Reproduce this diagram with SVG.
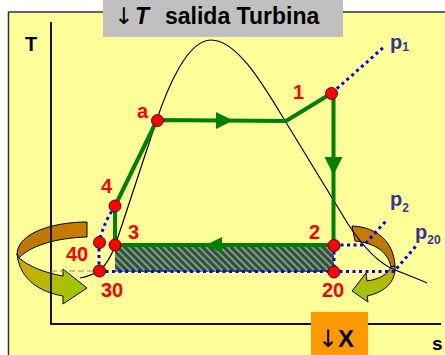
<svg xmlns="http://www.w3.org/2000/svg" width="445" height="355" viewBox="0 0 445 355">
<style>
.lbl{font-family:"Liberation Sans",Arial,sans-serif;font-weight:bold;font-size:20px;fill:#FF0000}
.plb{font-family:"Liberation Sans",Arial,sans-serif;font-weight:bold;font-size:20px;fill:#333399}
.sub{font-size:12px}
.blk{font-family:"Liberation Sans",Arial,sans-serif;font-weight:bold;fill:#000}
.arw{font-family:"DejaVu Sans",sans-serif;font-weight:normal}
.pt{fill:#FF0000;stroke:#600000;stroke-width:1}
.cyc{stroke:#008000;stroke-width:4;fill:none;stroke-linejoin:round}
.iso{stroke:#0000FF;stroke-width:3;fill:none;stroke-dasharray:3 3.5}
.head{fill:#008000}
.rib{stroke:#000;stroke-width:1}
</style>
<defs>
<pattern id="hatch" width="5" height="5" patternUnits="userSpaceOnUse" patternTransform="rotate(-45)">
<rect width="5" height="5" fill="#2A5436"/>
<rect width="2" height="5" fill="#8A968E"/>
</pattern>
<linearGradient id="orL" x1="0" y1="0" x2="1" y2="0"><stop offset="0" stop-color="#B87800"/><stop offset="1" stop-color="#CC7A00"/></linearGradient>
<linearGradient id="grL" x1="0" y1="0" x2="1" y2="0"><stop offset="0" stop-color="#CCAA00"/><stop offset="1" stop-color="#99CC00"/></linearGradient>
<linearGradient id="orR" x1="0" y1="0" x2="1" y2="0"><stop offset="0" stop-color="#CC7A00"/><stop offset="1" stop-color="#B87800"/></linearGradient>
<linearGradient id="grR" x1="0" y1="0" x2="0" y2="1"><stop offset="0" stop-color="#C8AA00"/><stop offset="1" stop-color="#99CC00"/></linearGradient>
</defs>

<rect x="8.5" y="12" width="445" height="350" fill="#FFFF99" stroke="#333" stroke-width="1.5"/>

<rect x="115" y="245" width="219" height="27" fill="url(#hatch)"/>

<g id="rot-left">
<path class="rib" d="M87,222 C55,222 18,232 17,254 L19,258 C30,246 55,238 87,237 Z" fill="url(#orL)"/>
<path class="rib" d="M19,258 C28,266 45,273 63,276 L63,269 L87,288 L63,304 L63,296 C40,292 20,280 17,254 Z" fill="url(#grL)"/>
</g>
<g id="rot-right">
<path class="rib" d="M352,226 C378,227 394,243 395,266 L391,267 C388,252 375,243 355,241 Z" fill="url(#orR)"/>
<path class="rib" d="M391,267 C388,274 380,279 367,281 L366,273 L352,291 L368,302 L367,296 C385,292 396,282 395,266 Z" fill="url(#grR)"/>
</g>

<g id="axes" stroke="#111" stroke-width="2" fill="none">
<path d="M51,22 L51,324 L441,324"/>
</g>

<g id="dome">
<path d="M80,278 C90,276 96,273 100,270 C107,264 112,255 116,243 L155,125 C168,85 188,40 211,40 C238,40 265,88 287,124 L348,224 C365,250 380,264 395,270 C405,274 418,279 427,283" fill="none" stroke="#000" stroke-width="1.2"/>
</g>

<g id="connectors">
<path class="iso" d="M332,93 L385,46"/>
<path class="iso" d="M334,245 L364,245 L386,221"/>
<path class="iso" d="M99,271.5 L394,271.5 L416,246"/>
<path class="iso" d="M334,245 L334,272"/>
<path class="iso" d="M99,242 L99,271"/>
<path class="iso" d="M115,206 Q104,222 99,242"/>
<path d="M51,271 L99,271" stroke="#888" stroke-width="1" stroke-dasharray="6 3" fill="none"/>
<path class="cyc" d="M115,245 L115,206 L157,120 L286,121 L332,93"/>
<path class="cyc" d="M333.5,93 L333.5,245 L115,245"/>
<polygon class="head" points="216,112 233,120.5 216,129"/>
<polygon class="head" points="324.5,157 333.5,175 342.5,157"/>
<polygon class="head" points="222,237 206,245 222,253"/>
</g>

<g id="node-a"><circle class="pt" cx="157.5" cy="120.5" r="6"/><text class="lbl" x="137" y="118">a</text></g>
<g id="node-1"><circle class="pt" cx="331.5" cy="93.5" r="6"/><text class="lbl" x="293" y="99">1</text></g>
<g id="node-2"><circle class="pt" cx="334" cy="245.5" r="6"/><text class="lbl" x="309" y="239">2</text></g>
<g id="node-20"><circle class="pt" cx="334" cy="272" r="6"/><text class="lbl" x="322" y="297">20</text></g>
<g id="node-3"><circle class="pt" cx="115" cy="245" r="6"/><text class="lbl" x="128" y="239">3</text></g>
<g id="node-4"><circle class="pt" cx="115" cy="206" r="6"/><text class="lbl" x="101" y="193">4</text></g>
<g id="node-40"><circle class="pt" cx="99.5" cy="242.5" r="6"/><text class="lbl" x="66" y="261">40</text></g>
<g id="node-30"><circle class="pt" cx="99.5" cy="271" r="6"/><text class="lbl" x="101" y="297">30</text></g>

<g id="isobar-labels">
<text class="plb" x="390" y="48.5">p<tspan class="sub" dy="2">1</tspan></text>
<text class="plb" x="390" y="205.5">p<tspan class="sub" dy="6">2</tspan></text>
<text class="plb" x="415" y="238.5">p<tspan class="sub" dy="5.5">20</tspan></text>
</g>

<g id="title">
<rect x="103" y="0" width="240" height="37" fill="#C0C0C0"/>
<text class="blk" y="24" font-size="23"><tspan class="arw" x="114">↓</tspan><tspan x="135" font-style="italic">T</tspan><tspan x="165">salida Turbina</tspan></text>
</g>

<g id="x-box">
<rect x="311" y="312" width="57" height="50" fill="#FF9900"/>
<text class="blk" x="318" y="347" font-size="24"><tspan class="arw">↓</tspan>X</text>
</g>

<text class="blk" x="25" y="51" font-size="20">T</text>
<text class="blk" x="432" y="350" font-size="19">s</text>
</svg>
